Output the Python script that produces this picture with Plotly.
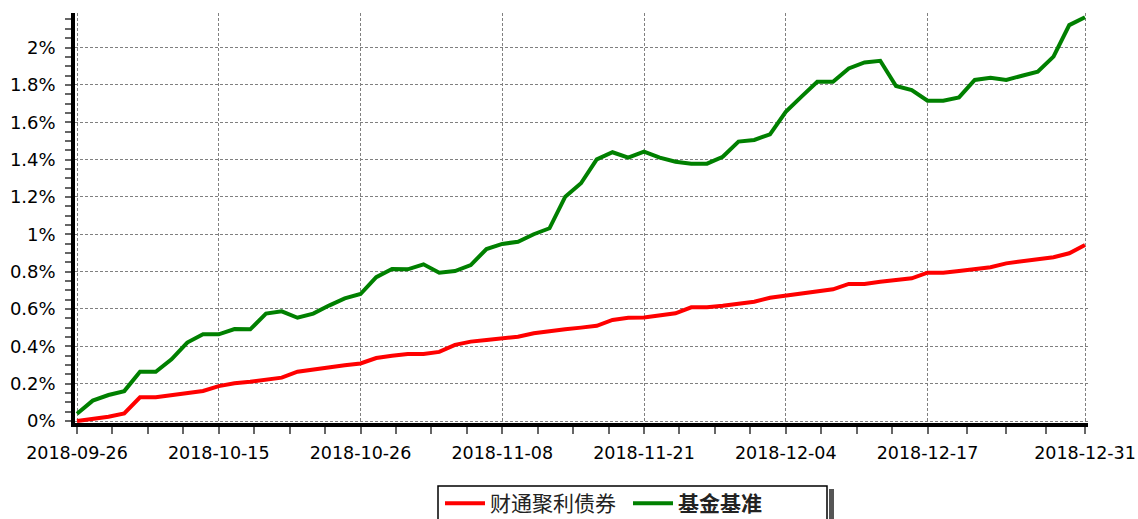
import numpy as np
import plotly.graph_objects as go

dates = [
    "2018-09-26", "2018-09-27", "2018-09-28", "2018-09-30",
    "2018-10-08", "2018-10-09", "2018-10-10", "2018-10-11", "2018-10-12", "2018-10-15",
    "2018-10-16", "2018-10-17", "2018-10-18", "2018-10-19", "2018-10-22", "2018-10-23",
    "2018-10-24", "2018-10-25", "2018-10-26", "2018-10-29", "2018-10-30", "2018-10-31",
    "2018-11-01", "2018-11-02", "2018-11-05", "2018-11-06", "2018-11-07", "2018-11-08",
    "2018-11-09", "2018-11-12", "2018-11-13", "2018-11-14", "2018-11-15", "2018-11-16",
    "2018-11-19", "2018-11-20", "2018-11-21", "2018-11-22", "2018-11-23", "2018-11-26",
    "2018-11-27", "2018-11-28", "2018-11-29", "2018-11-30", "2018-12-03", "2018-12-04",
    "2018-12-05", "2018-12-06", "2018-12-07", "2018-12-10", "2018-12-11", "2018-12-12",
    "2018-12-13", "2018-12-14", "2018-12-17", "2018-12-18", "2018-12-19", "2018-12-20",
    "2018-12-21", "2018-12-24", "2018-12-25", "2018-12-26", "2018-12-27", "2018-12-28",
    "2018-12-31",
]

fund = [
    0.000, 0.011, 0.023, 0.041, 0.127, 0.127, 0.139, 0.148, 0.161, 0.187,
    0.202, 0.210, 0.221, 0.232, 0.264, 0.277, 0.288, 0.298, 0.308, 0.337,
    0.349, 0.359, 0.359, 0.370, 0.408, 0.425, 0.434, 0.443, 0.451, 0.470,
    0.482, 0.491, 0.500, 0.510, 0.541, 0.553, 0.554, 0.564, 0.577, 0.609,
    0.609, 0.617, 0.627, 0.639, 0.660, 0.671, 0.680, 0.692, 0.705, 0.734,
    0.734, 0.746, 0.755, 0.764, 0.794, 0.794, 0.803, 0.812, 0.823, 0.844,
    0.857, 0.866, 0.877, 0.898, 0.942,
]

benchmark = [
    0.039, 0.109, 0.139, 0.160, 0.264, 0.264, 0.330, 0.420, 0.464, 0.464,
    0.492, 0.491, 0.575, 0.587, 0.553, 0.575, 0.618, 0.657, 0.680, 0.770,
    0.814, 0.812, 0.839, 0.794, 0.803, 0.835, 0.921, 0.948, 0.960, 1.000,
    1.032, 1.201, 1.273, 1.401, 1.439, 1.410, 1.442, 1.410, 1.388, 1.378,
    1.378, 1.415, 1.496, 1.505, 1.535, 1.656, 1.737, 1.817, 1.817, 1.888,
    1.920, 1.929, 1.794, 1.772, 1.715, 1.715, 1.733, 1.826, 1.838, 1.826,
    1.849, 1.870, 1.951, 2.120, 2.162,
]

tick_labels = ["2018-09-26", "2018-10-15", "2018-10-26", "2018-11-08",
               "2018-11-21", "2018-12-04", "2018-12-17", "2018-12-31"]

series_names = ["财通聚利债券", "<b>基金基准</b>"]

x = list(range(len(dates)))
major = [dates.index(d) for d in tick_labels]
minor = []
for a, b in zip(major[:-1], major[1:]):
    minor.extend(np.linspace(a, b, 5)[1:-1].tolist())

FONT = "DejaVu Sans"
W, H = 1138, 519
L, R, T, B = 75, 50, 13, 96
pw, ph = W - L - R, H - T - B

def px_x(p):
    return (p - L) / pw

def px_y(p):
    return (H - B - p) / ph

fig = go.Figure()
fig.add_trace(go.Scatter(
    x=x, y=fund, mode="lines", name=series_names[0],
    line=dict(color="#FF0000", width=4), customdata=dates,
    hovertemplate="%{customdata}<br>%{y:.3f}%<extra></extra>",
))
fig.add_trace(go.Scatter(
    x=x, y=benchmark, mode="lines", name=series_names[1],
    line=dict(color="#008000", width=4), customdata=dates,
    hovertemplate="%{customdata}<br>%{y:.3f}%<extra></extra>",
))

# legend frame and shadow
fig.add_shape(type="rect", xref="paper", yref="paper",
              x0=px_x(829), x1=px_x(834), y0=px_y(489), y1=px_y(540),
              line=dict(width=0), fillcolor="#555555", layer="above")
fig.add_shape(type="rect", xref="paper", yref="paper",
              x0=px_x(438), x1=px_x(827), y0=px_y(486), y1=px_y(540),
              line=dict(color="black", width=1.5), fillcolor="rgba(0,0,0,0)", layer="above")

fig.update_layout(
    width=W, height=H,
    margin=dict(l=L, r=R, t=T, b=B, autoexpand=False),
    paper_bgcolor="white", plot_bgcolor="white",
    font=dict(family=FONT, size=18, color="black"),
    showlegend=True,
    legend=dict(
        orientation="h", x=px_x(440), xanchor="left", y=px_y(483), yanchor="top",
        bgcolor="rgba(0,0,0,0)", borderwidth=0, entrywidth=133, entrywidthmode="pixels",
        itemwidth=40,
        font=dict(family="Noto Sans CJK SC", size=21, color="#222222"),
        itemclick=False, itemdoubleclick=False,
    ),
    xaxis=dict(
        range=[-2 / 15.75, 64 + 3 / 15.75], automargin=False,
        tickmode="array", tickvals=major, ticktext=tick_labels,
        showgrid=True, gridcolor="#808080", griddash="3px,2px", gridwidth=1.2,
        showline=True, linecolor="black", linewidth=3.5,
        ticks="outside", ticklen=7, tickwidth=1.5, tickcolor="#666666",
        minor=dict(tickmode="array", tickvals=minor, ticks="outside", ticklen=7,
                   tickwidth=1.5, tickcolor="#666666", showgrid=False),
        zeroline=False, tickfont=dict(family=FONT, size=17.5, color="black"),
        ticklabelstandoff=4,
    ),
    yaxis=dict(
        range=[-2 / 186.75, -2 / 186.75 + ph / 186.75], automargin=False,
        tickmode="linear", tick0=0, dtick=0.2, ticksuffix="%",
        showgrid=True, gridcolor="#808080", griddash="3px,2px", gridwidth=1.2,
        showline=True, linecolor="black", linewidth=3.5,
        ticks="outside", ticklen=6, tickwidth=1.5, tickcolor="#666666",
        minor=dict(dtick=0.05, tick0=0, ticks="outside", ticklen=6,
                   tickwidth=1.5, tickcolor="#666666", showgrid=False),
        zeroline=False, tickfont=dict(family=FONT, size=18, color="black"),
        ticklabelstandoff=6,
    ),
)

fig.write_html(
    "out.html",
    config={"displayModeBar": False},
    post_script="document.body.style.margin='0';document.body.style.overflow='hidden';",
)
